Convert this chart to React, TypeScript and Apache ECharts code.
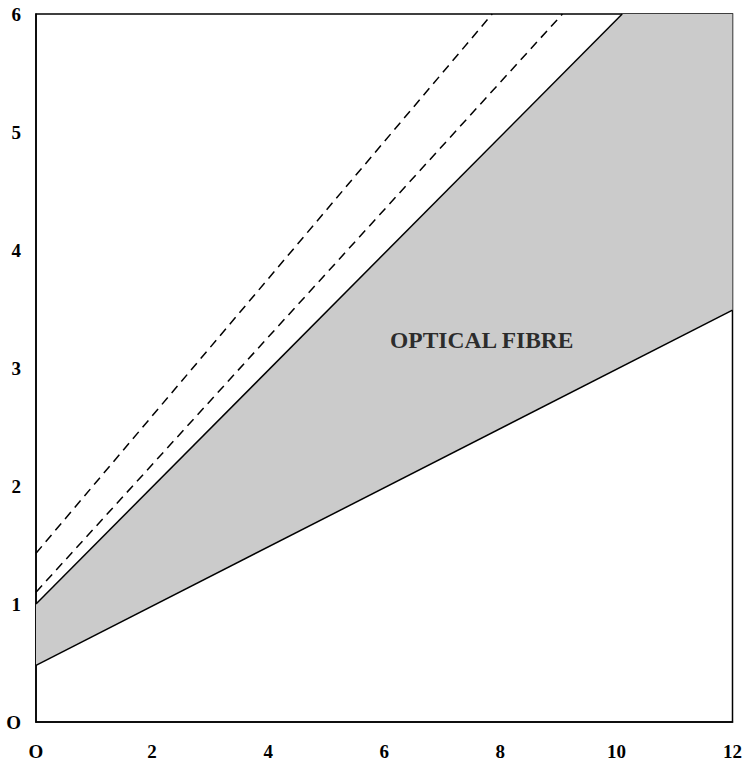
import React, { useEffect, useRef } from "react";
import * as echarts from "echarts";

const xTicks = [0, 2, 4, 6, 8, 10, 12];
const yTicks = [0, 1, 2, 3, 4, 5, 6];
const lowerLine: number[][] = [[0, 0.48], [12, 3.49]];
const upperLine: number[][] = [[0, 1.0], [10.1, 6], [12, 6]];
const dashedA: number[][] = [[0, 1.1], [9.07, 6]];
const dashedB: number[][] = [[0, 1.43], [7.86, 6]];
const fillPolygon: number[][] = [...upperLine, ...lowerLine.slice().reverse()];
const regionLabel = "OPTICAL FIBRE";
const regionLabelAt: number[][] = [[7.68, 3.24]];

const FONT = "Liberation Serif, Times New Roman, serif";

export default function App() {
  const ref = useRef<HTMLDivElement>(null);
  useEffect(() => {
    if (!ref.current) return;
    const chart = echarts.init(ref.current, null, { renderer: "svg" });
    const fmt = (v: number) => (v === 0 ? "O" : String(v));
    chart.setOption({
      animation: false,
      backgroundColor: "#fff",
      grid: {
        left: 36,
        right: 10,
        top: 14,
        bottom: 45,
        show: true,
        borderColor: "#000",
        borderWidth: 1.5,
      },
      xAxis: {
        type: "value",
        min: 0,
        max: 12,
        interval: 2,
        axisLine: { show: true, lineStyle: { color: "#000", width: 1.5 } },
        axisTick: { show: false },
        splitLine: { show: false },
        axisLabel: {
          formatter: fmt,
          color: "#000",
          fontFamily: FONT,
          fontWeight: "bold",
          fontSize: 19,
          margin: 20,
        },
      },
      yAxis: {
        type: "value",
        min: 0,
        max: 6,
        interval: 1,
        axisLine: { show: true, lineStyle: { color: "#000", width: 1.5 } },
        axisTick: { show: false },
        splitLine: { show: false },
        axisLabel: {
          formatter: fmt,
          color: "#000",
          fontFamily: FONT,
          fontWeight: "bold",
          fontSize: 19,
          margin: 15,
        },
      },
      series: [
        {
          type: "custom",
          z: 1,
          data: [0],
          renderItem: (_params: any, api: any) => ({
            type: "polygon",
            shape: { points: fillPolygon.map((p) => api.coord(p)) },
            style: { fill: "#cbcbcb", stroke: "none" },
          }),
          silent: true,
        },
        {
          type: "line",
          z: 3,
          data: lowerLine,
          symbol: "none",
          lineStyle: { color: "#000", width: 1.5 },
        },
        {
          type: "line",
          z: 3,
          data: upperLine.slice(0, 2),
          symbol: "none",
          lineStyle: { color: "#000", width: 1.5 },
        },
        {
          type: "line",
          z: 3,
          data: dashedA,
          symbol: "none",
          lineStyle: { color: "#000", width: 1.5, type: [9, 6] },
        },
        {
          type: "line",
          z: 3,
          data: dashedB,
          symbol: "none",
          lineStyle: { color: "#000", width: 1.5, type: [9, 6] },
        },
        {
          type: "scatter",
          z: 4,
          data: regionLabelAt,
          symbol: "circle",
          symbolSize: 1,
          itemStyle: { color: "rgba(0,0,0,0)" },
          silent: true,
          label: {
            show: true,
            formatter: regionLabel,
            color: "#000",
            textBorderWidth: 0,
            fontFamily: FONT,
            fontWeight: "bold",
            fontSize: 23.5,
            position: "inside",
          },
        },
      ],
    });
    return () => chart.dispose();
  }, []);
  return <div ref={ref} style={{ width: 745, height: 767, position: "absolute", left: 0, top: 0 }} />;
}
